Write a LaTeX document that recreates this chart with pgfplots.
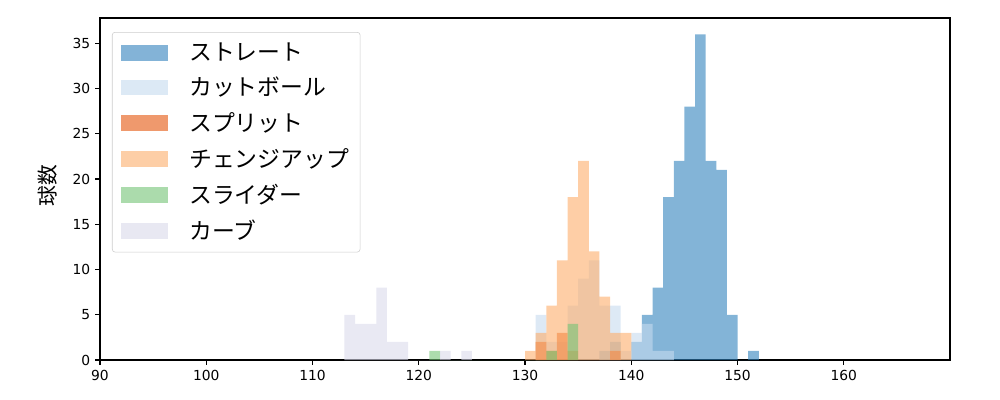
\documentclass[border=0pt]{standalone}
\usepackage{pgfplots}
\pgfplotsset{compat=1.18}
\usepackage{fontspec}
\setmainfont{DejaVu Sans}
\newfontfamily\cjk{Noto Sans CJK JP}

\definecolor{cStr}{HTML}{3182BD}
\definecolor{cCut}{HTML}{C6DBEF}
\definecolor{cSpl}{HTML}{E6550D}
\definecolor{cChg}{HTML}{FDAE6B}
\definecolor{cSld}{HTML}{74C476}
\definecolor{cCrv}{HTML}{DADAEB}

\begin{document}
\begin{tikzpicture}
\useasboundingbox (-1in,-0.4in) rectangle (9in,3.6in);
\begin{axis}[
    width=8.5in, height=3.42in, scale only axis,
    xmin=90, xmax=170, ymin=0, ymax=37.8,
    xtick={90,100,...,160},
    ytick={0,5,...,35},
    tick pos=left,
    tick align=outside,
    major tick length=3.5pt,
    tick style={black, line width=0.8pt},
    axis line style={line width=0.8pt},
    ticklabel style={font=\fontsize{10}{12}\selectfont},
    /pgf/number format/assume math mode=true,
    ylabel={\cjk 球数},
    ylabel style={font=\fontsize{15}{17}\selectfont,
        at={(axis description cs:-0.062,0.51)}, anchor=center},
    hist/.style={const plot, draw=none, fill=#1, fill opacity=0.6},
    legend image code/.code={\fill[#1, sharp corners] (0pt,-5.75pt) rectangle (34.6pt,5.75pt);},
    legend cell align=left,
    legend style={
        at={(0.0141,0.959)}, anchor=north west,
        font=\fontsize{16.5}{19}\selectfont\cjk,
        draw=black!20, rounded corners=2pt,
        fill=white, fill opacity=0.8, text opacity=1,
        inner xsep=6pt, inner ysep=5.5pt,
        row sep=6.6pt, column sep=13pt,
    },
]
% ストレート
\addplot[hist=cStr] coordinates {
    (137,1) (138,2) (139,0) (140,2) (141,5) (142,8) (143,18) (144,22)
    (145,28) (146,36) (147,22) (148,21) (149,5) (150,0) (151,1) (152,0)
} \closedcycle;
\addlegendentry{ストレート}
% カットボール
\addplot[hist=cCut] coordinates {
    (131,5) (132,2) (133,2) (134,6) (135,9) (136,11) (137,6) (138,6)
    (139,1) (140,3) (141,4) (142,1) (143,1) (144,0)
} \closedcycle;
\addlegendentry{カットボール}
% スプリット
\addplot[hist=cSpl] coordinates {
    (131,2) (132,1) (133,3) (134,1) (135,0) (138,1) (139,0)
} \closedcycle;
\addlegendentry{スプリット}
% チェンジアップ
\addplot[hist=cChg] coordinates {
    (130,1) (131,3) (132,6) (133,11) (134,18) (135,22) (136,12)
    (137,7) (138,3) (139,3) (140,0)
} \closedcycle;
\addlegendentry{チェンジアップ}
% スライダー
\addplot[hist=cSld] coordinates {
    (121,1) (122,0) (132,1) (133,0) (134,4) (135,0)
} \closedcycle;
\addlegendentry{スライダー}
% カーブ
\addplot[hist=cCrv] coordinates {
    (113,5) (114,4) (115,4) (116,8) (117,2) (118,2) (119,0)
    (122,1) (123,0) (124,1) (125,0)
} \closedcycle;
\addlegendentry{カーブ}
\end{axis}
\end{tikzpicture}
\end{document}
